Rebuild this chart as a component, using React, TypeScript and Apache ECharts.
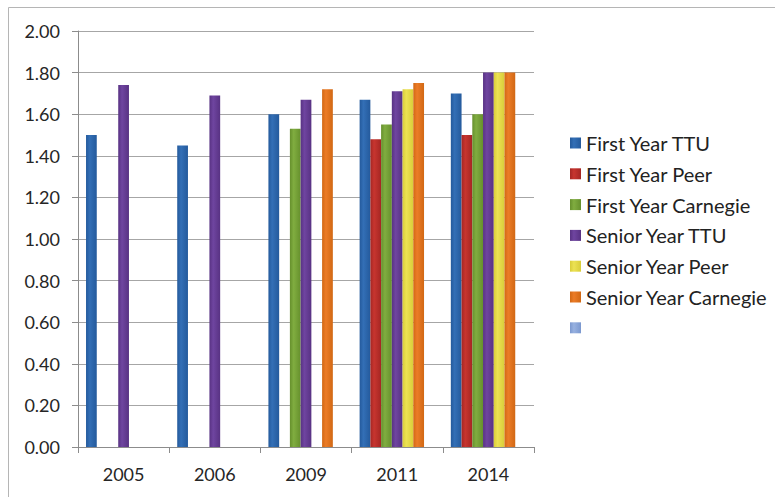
import React, { useEffect, useRef } from "react";
import * as echarts from "echarts";

const years = ["2005", "2006", "2009", "2011", "2014"];

const firstYearTTU = [1.5, 1.45, 1.6, 1.67, 1.7];
const firstYearPeer = [null, null, null, 1.48, 1.5];
const firstYearCarnegie = [null, null, 1.53, 1.55, 1.6];
const seniorYearTTU = [1.74, 1.69, 1.67, 1.71, 1.8];
const seniorYearPeer = [null, null, null, 1.72, 1.8];
const seniorYearCarnegie = [null, null, 1.72, 1.75, 1.8];
const unnamedSeries = [null, null, null, null, null];

const seriesNames = [
  "First Year TTU",
  "First Year Peer",
  "First Year Carnegie",
  "Senior Year TTU",
  "Senior Year Peer",
  "Senior Year Carnegie",
  " ",
];

const seriesValues = [
  firstYearTTU,
  firstYearPeer,
  firstYearCarnegie,
  seniorYearTTU,
  seniorYearPeer,
  seniorYearCarnegie,
  unnamedSeries,
];

const palette = [
  ["#336fb6", "#245a9c"],
  ["#c7352f", "#a52623"],
  ["#80ad40", "#66902d"],
  ["#6f45a0", "#583283"],
  ["#ece253", "#d9cd3a"],
  ["#ec7c27", "#d16814"],
  ["#97b1e0", "#7b98cf"],
];

const FONT = "Lato, 'Noto Sans', sans-serif";

export default function App() {
  const ref = useRef<HTMLDivElement>(null);

  useEffect(() => {
    if (!ref.current) return;
    const chart = echarts.init(ref.current, null, { renderer: "svg" });

    const series = seriesNames.map((name, i) => ({
      name,
      type: "bar",
      data: seriesValues[i],
      barGap: "0%",
      barCategoryGap: "17.6%",
      itemStyle: {
        color: new echarts.graphic.LinearGradient(0, 0, 1, 0, [
          { offset: 0, color: palette[i][1] },
          { offset: 0.35, color: palette[i][0] },
          { offset: 1, color: palette[i][1] },
        ]),
      },
    }));

    chart.setOption({
      animation: false,
      backgroundColor: "#ffffff",
      textStyle: { fontFamily: FONT },
      graphic: [
        {
          type: "rect",
          shape: { x: 8.5, y: 7.5, width: 800, height: 520 },
          style: { fill: "none", stroke: "#b5b5b5", lineWidth: 1 },
          silent: true,
          z: -1,
        },
      ],
      grid: { left: 78, right: 241, top: 31, bottom: 50, containLabel: false },
      legend: {
        orient: "vertical",
        left: 565,
        top: 128,
        icon: "rect",
        itemWidth: 11,
        itemHeight: 11,
        itemGap: 10.8,
        data: seriesNames,
        selectedMode: false,
        textStyle: {
          fontFamily: FONT,
          fontSize: 20,
          lineHeight: 20,
          color: "#222222",
        },
      },
      xAxis: {
        type: "category",
        data: years,
        axisLine: { show: true, lineStyle: { color: "#8c8c8c", width: 1 } },
        axisTick: {
          show: true,
          length: 6,
          interval: 0,
          alignWithLabel: false,
          lineStyle: { color: "#8c8c8c" },
        },
        axisLabel: {
          fontFamily: FONT,
          fontSize: 18,
          color: "#262626",
          margin: 18,
        },
      },
      yAxis: {
        type: "value",
        min: 0,
        max: 2,
        interval: 0.2,
        axisLine: { show: true, lineStyle: { color: "#8c8c8c", width: 1 } },
        axisTick: { show: true, length: 6, lineStyle: { color: "#8c8c8c" } },
        splitLine: { show: true, lineStyle: { color: "#a6a6a6", width: 1 } },
        axisLabel: {
          fontFamily: FONT,
          fontSize: 18,
          color: "#262626",
          margin: 18,
          formatter: (v: number) => v.toFixed(2),
        },
      },
      series,
    });

    return () => chart.dispose();
  }, []);

  return (
    <div
      ref={ref}
      style={{ position: "fixed", left: 0, top: 0, width: 775, height: 497 }}
    />
  );
}
